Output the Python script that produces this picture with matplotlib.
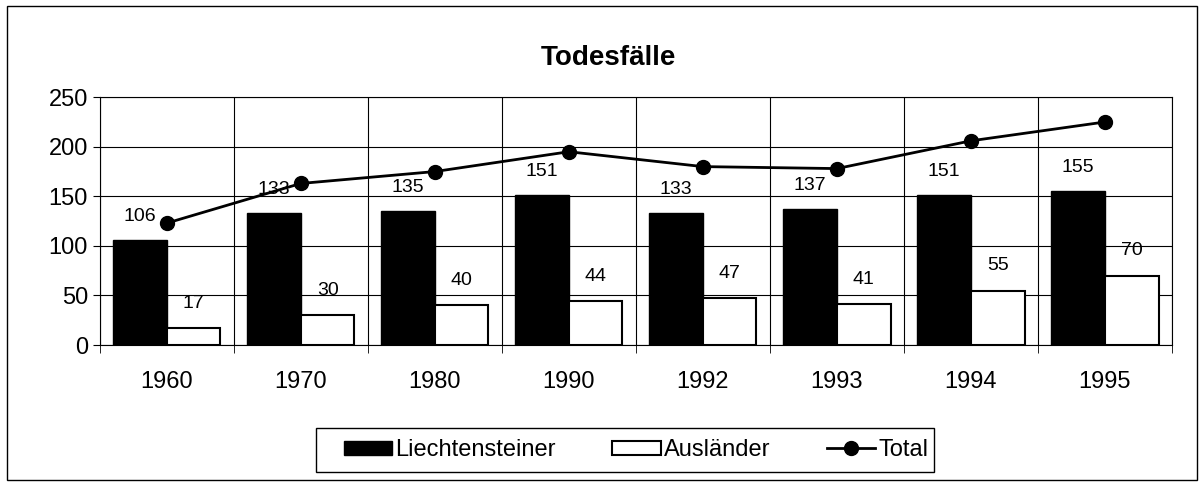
import numpy as np
import matplotlib.pyplot as plt
from matplotlib.patches import Rectangle

# Daten
jahre = ["1960", "1970", "1980", "1990", "1992", "1993", "1994", "1995"]
liechtensteiner = [106, 133, 135, 151, 133, 137, 151, 155]
auslaender = [17, 30, 40, 44, 47, 41, 55, 70]
total = [a + b for a, b in zip(liechtensteiner, auslaender)]

plt.rcParams['font.family'] = ['Liberation Sans', 'DejaVu Sans']

fig = plt.figure(figsize=(12.02, 4.86), dpi=100)
ax = fig.add_axes([0.083, 0.29, 0.892, 0.51])

x = np.arange(len(jahre))
w = 0.4
b1 = ax.bar(x - w / 2, liechtensteiner, w, color="black", edgecolor="black",
            label="Liechtensteiner", zorder=3)
b2 = ax.bar(x + w / 2, auslaender, w, color="white", edgecolor="black", linewidth=1.5,
            label="Ausländer", zorder=3)
l1, = ax.plot(x, total, "k-", marker="o", markersize=10, linewidth=2, label="Total", zorder=4)

# Beschriftungen
for i in range(len(jahre)):
    ax.text(x[i] - w / 2, liechtensteiner[i] + 24, str(liechtensteiner[i]),
            ha="center", va="center", fontsize=14, zorder=5)
    ax.text(x[i] + w / 2, auslaender[i] + 25, str(auslaender[i]),
            ha="center", va="center", fontsize=14, zorder=5)

ax.set_xlim(-0.5, len(jahre) - 0.5)
ax.set_ylim(0, 250)
ax.set_yticks(range(0, 251, 50))
ax.set_xticks(x)
ax.set_xticklabels(jahre, fontsize=17)
ax.tick_params(axis="x", length=0, pad=19)
ax.tick_params(axis="y", labelsize=17, direction="out", length=5)
ax.set_xticks(np.arange(-0.5, len(jahre), 1), minor=True)
ax.tick_params(axis="x", which="minor", length=6, direction="out")
ax.grid(True, axis="x", which="minor", color="black", linewidth=0.8, zorder=0)
ax.grid(True, axis="y", which="major", color="black", linewidth=0.8, zorder=0)
for s in ax.spines.values():
    s.set_linewidth(0.8)

fig.text(0.506, 0.88, "Todesfälle", ha="center", va="center",
         fontsize=20, fontweight="bold")

leg = fig.legend(handles=[b1, b2, l1], loc="center",
                 bbox_to_anchor=(636 / 1202, 0.074), ncol=3,
                 fontsize=17, frameon=False,
                 handlelength=2.05, handleheight=0.55, columnspacing=2.4,
                 handletextpad=0.12)

# Legendenrahmen
fig.patches.append(Rectangle((316 / 1202, 1 - 472 / 486), 618 / 1202, 44 / 486,
                             transform=fig.transFigure, fill=False,
                             edgecolor="black", linewidth=1.0))
# Rahmen
fig.patches.append(Rectangle((0.006, 0.012), 0.99, 0.975, transform=fig.transFigure,
                             fill=False, edgecolor="black", linewidth=1.0))

plt.savefig("out.png", dpi=100)
